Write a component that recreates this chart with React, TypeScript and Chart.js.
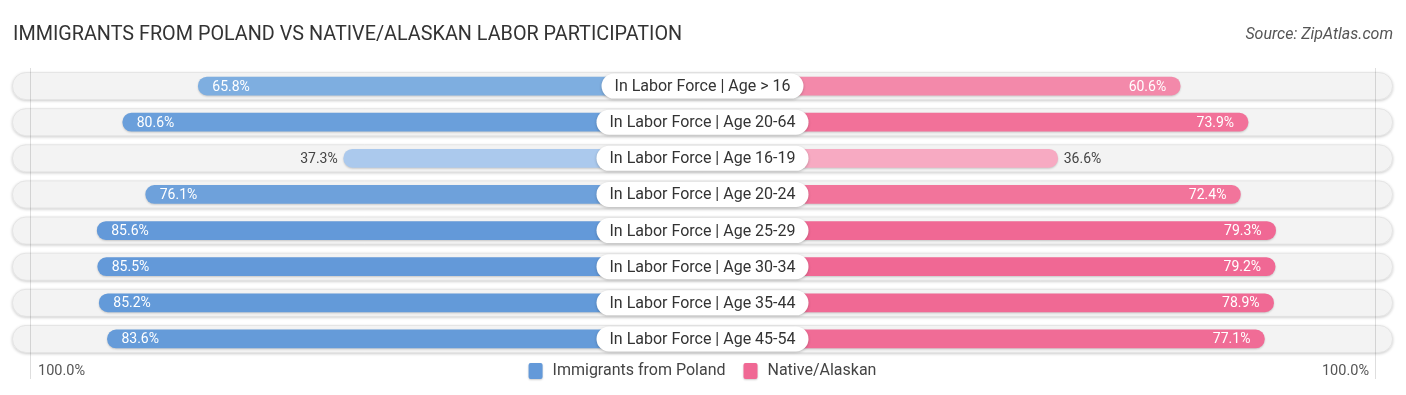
import React, { useEffect, useRef } from "react";
import { Chart, registerables } from "chart.js";

Chart.register(...registerables);

const TITLE = "IMMIGRANTS FROM POLAND VS NATIVE/ALASKAN LABOR PARTICIPATION";
const SOURCE = "Source: ZipAtlas.com";
const categories = [
  "In Labor Force | Age > 16",
  "In Labor Force | Age 20-64",
  "In Labor Force | Age 16-19",
  "In Labor Force | Age 20-24",
  "In Labor Force | Age 25-29",
  "In Labor Force | Age 30-34",
  "In Labor Force | Age 35-44",
  "In Labor Force | Age 45-54",
];
const seriesNames = ["Immigrants from Poland", "Native/Alaskan"];
const polandValues = [65.8, 80.6, 37.3, 76.1, 85.6, 85.5, 85.2, 83.6];
const nativeValues = [60.6, 73.9, 36.6, 72.4, 79.3, 79.2, 78.9, 77.1];
const polandColors = ["#7eaee0", "#6a9fdb", "#abc9ed", "#6ea1db", "#6399d9", "#6399d9", "#639ad9", "#659bd9"];
const nativeColors = ["#f389aa", "#f27199", "#f7aac2", "#f2749b", "#f06894", "#f06894", "#f06994", "#f06c96"];
const axisLabels = ["100.0%", "100.0%"];

const OFF = 33; // hidden part of each bar under the centre label
const XMAX = 135.3;
const FONT = "Roboto, 'Noto Sans', sans-serif";

function roundRect(ctx: CanvasRenderingContext2D, x: number, y: number, w: number, h: number, r: number) {
  const rr = Math.min(r, w / 2, h / 2);
  ctx.beginPath();
  ctx.moveTo(x + rr, y);
  ctx.lineTo(x + w - rr, y);
  ctx.arcTo(x + w, y, x + w, y + rr, rr);
  ctx.lineTo(x + w, y + h - rr);
  ctx.arcTo(x + w, y + h, x + w - rr, y + h, rr);
  ctx.lineTo(x + rr, y + h);
  ctx.arcTo(x, y + h, x, y + h - rr, rr);
  ctx.lineTo(x, y + rr);
  ctx.arcTo(x, y, x + rr, y, rr);
  ctx.closePath();
}

const decorPlugin = {
  id: "decor",
  beforeDatasetsDraw(chart: any) {
    const { ctx, chartArea, scales } = chart;
    const ys = scales.y;
    const xs = scales.x;
    ctx.save();
    categories.forEach((_, i) => {
      const y = ys.getPixelForValue(i);
      const h = 28;
      ctx.save();
      ctx.shadowColor = "rgba(0,0,0,0.2)";
      ctx.shadowBlur = 3;
      ctx.shadowOffsetY = 1;
      ctx.fillStyle = "#f3f3f3";
      roundRect(ctx, chartArea.left, y - h / 2, chartArea.right - chartArea.left, h, h / 2);
      ctx.fill();
      ctx.restore();
      ctx.strokeStyle = "rgba(0,0,0,0.06)";
      ctx.lineWidth = 1;
      roundRect(ctx, chartArea.left + 0.5, y - h / 2 + 0.5, chartArea.right - chartArea.left - 1, h - 1, h / 2);
      ctx.stroke();
    });
    // faint gridlines at +-100%
    ctx.strokeStyle = "rgba(0,0,0,0.13)";
    ctx.lineWidth = 1;
    [-(100 + OFF) + 1.2, 100 + OFF - 1.2].forEach((v) => {
      const x = Math.round(xs.getPixelForValue(v)) + 0.5;
      ctx.beginPath();
      ctx.moveTo(x, chartArea.top);
      ctx.lineTo(x, chartArea.bottom + 22);
      ctx.stroke();
    });
    ctx.restore();
  },
  beforeDatasetDraw(chart: any) {
    const ctx = chart.ctx;
    ctx.save();
    ctx.shadowColor = "rgba(0,0,0,0.18)";
    ctx.shadowBlur = 2;
    ctx.shadowOffsetY = 1;
  },
  afterDatasetDraw(chart: any) {
    chart.ctx.restore();
  },
  afterDatasetsDraw(chart: any) {
    const { ctx, scales, width } = chart;
    const ys = scales.y;
    const xs = scales.x;
    const cx = xs.getPixelForValue(0);
    ctx.save();
    // value labels
    ctx.font = `14px ${FONT}`;
    ctx.textBaseline = "middle";
    categories.forEach((_, i) => {
      const y = ys.getPixelForValue(i) + 1;
      const lv = polandValues[i];
      const lx = xs.getPixelForValue(-(lv + OFF));
      if (lv >= 50) {
        ctx.fillStyle = "#ffffff";
        ctx.textAlign = "left";
        ctx.fillText(lv.toFixed(1) + "%", lx + 14, y);
      } else {
        ctx.fillStyle = "#444444";
        ctx.textAlign = "right";
        ctx.fillText(lv.toFixed(1) + "%", lx - 6, y);
      }
      const rv = nativeValues[i];
      const rx = xs.getPixelForValue(rv + OFF);
      if (rv >= 50) {
        ctx.fillStyle = "#ffffff";
        ctx.textAlign = "right";
        ctx.fillText(rv.toFixed(1) + "%", rx - 14, y);
      } else {
        ctx.fillStyle = "#444444";
        ctx.textAlign = "left";
        ctx.fillText(rv.toFixed(1) + "%", rx + 6, y);
      }
    });
    // centre labels
    ctx.font = `16px ${FONT}`;
    categories.forEach((c, i) => {
      const y = ys.getPixelForValue(i);
      const tw = ctx.measureText(c).width;
      const w = tw + 26;
      const h = 25;
      ctx.save();
      ctx.shadowColor = "rgba(0,0,0,0.22)";
      ctx.shadowBlur = 3;
      ctx.shadowOffsetY = 1;
      ctx.fillStyle = "#ffffff";
      roundRect(ctx, cx - w / 2, y - h / 2, w, h, h / 2);
      ctx.fill();
      ctx.restore();
      ctx.fillStyle = "#333333";
      ctx.textAlign = "center";
      ctx.fillText(c, cx, y + 1);
    });
    // title & source
    ctx.textAlign = "left";
    ctx.textBaseline = "alphabetic";
    ctx.fillStyle = "#333333";
    ctx.font = `19.8px ${FONT}`;
    ctx.fillText(TITLE, 13, 40);
    ctx.textAlign = "right";
    ctx.fillStyle = "#555555";
    ctx.font = `italic 16px ${FONT}`;
    ctx.fillText(SOURCE, width - 13, 39);
    // bottom axis labels
    const by = 371;
    ctx.textBaseline = "middle";
    ctx.font = `14.5px ${FONT}`;
    ctx.fillStyle = "#555555";
    ctx.textAlign = "left";
    ctx.fillText(axisLabels[0], 38, by);
    ctx.textAlign = "right";
    ctx.fillText(axisLabels[1], width - 37, by);
    // legend
    ctx.font = `16px ${FONT}`;
    const sw = 14;
    const gap = 10;
    const between = 18;
    const w0 = ctx.measureText(seriesNames[0]).width;
    const w1 = ctx.measureText(seriesNames[1]).width;
    const total = sw + gap + w0 + between + sw + gap + w1;
    let x = cx - total / 2;
    [0, 1].forEach((k) => {
      ctx.save();
      ctx.shadowColor = "rgba(0,0,0,0.2)";
      ctx.shadowBlur = 2;
      ctx.shadowOffsetY = 1;
      ctx.fillStyle = k === 0 ? polandColors[4] : nativeColors[4];
      roundRect(ctx, x, by - 8, sw, 16, 2);
      ctx.fill();
      ctx.restore();
      x += sw + gap;
      ctx.fillStyle = "#444444";
      ctx.textAlign = "left";
      ctx.fillText(seriesNames[k], x, by);
      x += (k === 0 ? w0 : w1) + between;
    });
    ctx.restore();
  },
};

export default function App() {
  const ref = useRef<HTMLCanvasElement | null>(null);
  useEffect(() => {
    if (!ref.current) return;
    const chart = new Chart(ref.current, {
      type: "bar",
      data: {
        labels: categories,
        datasets: [
          {
            label: seriesNames[0],
            data: polandValues.map((v) => [-(v + OFF), 0]) as any,
            backgroundColor: polandColors,
            borderRadius: 9,
            borderSkipped: false,
            barThickness: 18,
            grouped: false,
          } as any,
          {
            label: seriesNames[1],
            data: nativeValues.map((v) => [0, v + OFF]) as any,
            backgroundColor: nativeColors,
            borderRadius: 9,
            borderSkipped: false,
            barThickness: 18,
            grouped: false,
          } as any,
        ],
      },
      options: {
        indexAxis: "y",
        responsive: false,
        animation: false,
        layout: { padding: { left: 12, right: 13, top: 68, bottom: 38 } },
        scales: {
          x: { type: "linear", min: -XMAX, max: XMAX, display: false },
          y: { type: "category", display: false, offset: true },
        },
        plugins: {
          legend: { display: false },
          title: { display: false },
          tooltip: { enabled: false },
        },
      },
      plugins: [decorPlugin],
    });
    return () => chart.destroy();
  }, []);
  return (
    <div style={{ position: "absolute", left: 0, top: 0, width: 1406, height: 395, background: "#ffffff" }}>
      <canvas ref={ref} width={1406} height={395} style={{ display: "block" }} />
    </div>
  );
}
